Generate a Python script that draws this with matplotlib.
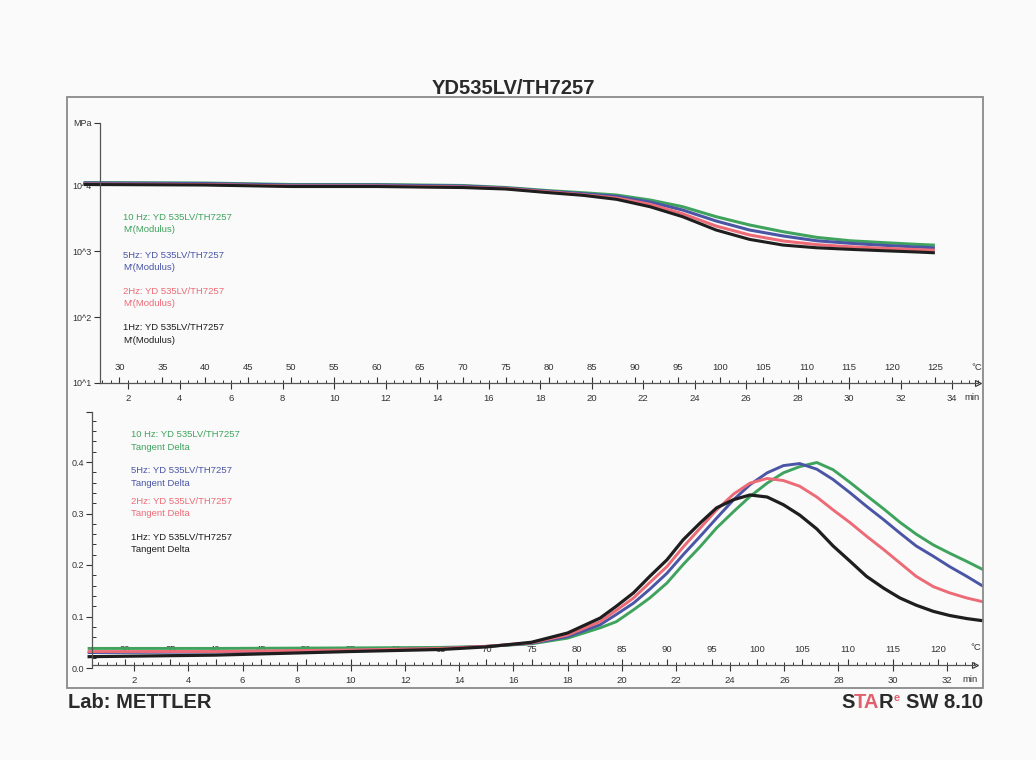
import numpy as np
import matplotlib
matplotlib.use("Agg")
import matplotlib.pyplot as plt
from matplotlib.patches import Rectangle
from matplotlib.ticker import MultipleLocator, NullLocator

plt.rcParams['font.family'] = ['Liberation Sans', 'DejaVu Sans']

# --- data (temperature in °C, heating 3 K/min from 25 °C) ---
# storage modulus M' in MPa
temp_mod = [26, 40, 50, 60, 70, 75, 80.1, 84.0, 87.9, 91.8, 95.6, 99.5, 103.4, 107.3,
            111.2, 115.1, 119.0, 122.9, 124.8]
mod_10hz = [10910, 10720, 10180, 10180, 9830, 9170, 8200, 7640, 7050, 5930, 4690, 3310,
            2480, 1960, 1610, 1430, 1340, 1260, 1230]
mod_5hz = [10720, 10540, 10000, 10000, 9660, 9010, 8030, 7380, 6740, 5530, 4180, 2850,
           2080, 1690, 1430, 1310, 1220, 1150, 1120]
mod_2hz = [10350, 10180, 9660, 9660, 9330, 8850, 7830, 7130, 6350, 5100, 3670, 2390,
           1750, 1420, 1250, 1160, 1100, 1050, 1030]
mod_1hz = [10180, 10000, 9490, 9490, 9160, 8700, 7640, 6980, 6070, 4690, 3310, 2080,
           1500, 1230, 1120, 1060, 1010, 966, 942]

# tangent delta
temp_tan = [26, 40, 55, 65, 70, 75, 79, 82.6, 84.4, 86.3, 88.1, 90.0, 91.8, 93.7, 95.5,
            97.4, 99.2, 101.1, 102.9, 104.7, 106.6, 108.4, 110.3, 112.1, 114.0, 115.8,
            117.6, 119.5, 121.3, 123.2, 124.9]
tan_10hz = [0.038, 0.038, 0.039, 0.040, 0.042, 0.047, 0.058, 0.078, 0.090, 0.113, 0.136,
            0.165, 0.201, 0.236, 0.272, 0.304, 0.333, 0.359, 0.379, 0.391, 0.399, 0.385,
            0.360, 0.335, 0.309, 0.283, 0.260, 0.239, 0.223, 0.207, 0.192]
tan_5hz = [0.030, 0.031, 0.034, 0.038, 0.042, 0.048, 0.061, 0.084, 0.104, 0.126, 0.153,
           0.184, 0.220, 0.256, 0.291, 0.327, 0.356, 0.379, 0.393, 0.397, 0.386, 0.366,
           0.340, 0.314, 0.288, 0.262, 0.237, 0.217, 0.197, 0.178, 0.160]
tan_2hz = [0.032, 0.032, 0.035, 0.038, 0.042, 0.049, 0.064, 0.090, 0.112, 0.136, 0.166,
           0.197, 0.235, 0.272, 0.307, 0.338, 0.359, 0.368, 0.364, 0.353, 0.332, 0.307,
           0.282, 0.256, 0.230, 0.204, 0.178, 0.158, 0.146, 0.136, 0.129]
tan_1hz = [0.022, 0.025, 0.032, 0.036, 0.041, 0.050, 0.068, 0.097, 0.120, 0.146, 0.178,
           0.210, 0.249, 0.282, 0.311, 0.327, 0.336, 0.332, 0.317, 0.297, 0.270, 0.237,
           0.207, 0.178, 0.155, 0.136, 0.122, 0.110, 0.102, 0.096, 0.092]

series = ['10 Hz', '5Hz', '2Hz', '1Hz']
colors = ['#3fa35e', '#4a55a6', '#ec6b76', '#1e1e1e']
mod_data = [mod_10hz, mod_5hz, mod_2hz, mod_1hz]
tan_data = [tan_10hz, tan_5hz, tan_2hz, tan_1hz]

time_ticks_top = np.arange(2, 35, 2)
time_ticks_bot = np.arange(2, 33, 2)
temp_ticks_top = np.arange(30, 126, 5)
temp_ticks_bot = np.arange(30, 121, 5)


def t2T(t):
    return 25 + 3 * np.asarray(t, dtype=float)


def T2t(T):
    return (np.asarray(T, dtype=float) - 25) / 3


W, H = 1036, 760
TXT = '#333333'
DARK = '#2a2a2a'
fig = plt.figure(figsize=(W / 100, H / 100), dpi=100, facecolor='#fafafa')

# outer frame
fig.add_artist(Rectangle((67 / W, 1 - 688 / H), 916 / W, 591 / H, transform=fig.transFigure,
                         fill=False, ec='#8a8a8a', lw=1.3))

fig.text(513 / W, 1 - 88 / H, 'YD535LV/TH7257', ha='center', va='center',
         fontsize=14.5, fontweight='bold', color=DARK)
fig.text(68 / W, 1 - 703 / H, 'Lab: METTLER', ha='left', va='center',
         fontsize=14.5, fontweight='bold', color=DARK)


def style_xaxes(ax, loc, time_ticks, temp_ticks):
    ax.set_xticks(time_ticks)
    ax.tick_params(axis='x', which='major', direction='out', length=4, width=0.8,
                   pad=4, labelsize=6.8, colors=TXT)
    sec = ax.secondary_xaxis(loc, functions=(t2T, T2t))
    sec.set_alignment('top')
    sec.spines['top'].set_visible(False)
    sec.set_xticks(temp_ticks)
    sec.xaxis.set_minor_locator(MultipleLocator(1))
    sec.tick_params(which='major', direction='out', length=4, width=0.8, pad=4,
                    labelsize=6.8, colors=TXT)
    sec.tick_params(which='minor', direction='out', length=2, width=0.7, colors=TXT)
    ax.plot([1], [loc], marker='>', ms=4, mfc='none', mec=TXT, mew=0.8,
            transform=ax.transAxes, clip_on=False)
    return sec


# ---------------- upper: modulus ----------------
ax1 = fig.add_axes([100 / W, 1 - 383 / H, 878 / W, 260 / H])
ax1.set_facecolor('none')
for i in range(4):
    ax1.plot(T2t(temp_mod), mod_data[i], color=colors[i], lw=2.2, clip_on=False,
             solid_joinstyle='round')
ax1.set_xlim(0.91, 35.0)
ax1.set_yscale('log')
ax1.set_ylim(10, 10 ** 4.94)
ax1.set_yticks([10, 100, 1000, 10000, 10 ** 4.94])
ax1.set_yticklabels(['10^1', '10^2', '10^3', '10^4', 'MPa'])
ax1.yaxis.set_minor_locator(NullLocator())
ax1.tick_params(axis='y', direction='out', length=4, width=0.8, pad=2,
                labelsize=6.5, colors=TXT)
for s in ['top', 'right']:
    ax1.spines[s].set_visible(False)
for s in ['left', 'bottom']:
    ax1.spines[s].set_color('#555555')
    ax1.spines[s].set_linewidth(0.9)
style_xaxes(ax1, 0, time_ticks_top, temp_ticks_top)
fig.text(977 / W, 1 - 368 / H, '°C', ha='center', va='center', fontsize=6.8, color=TXT)
fig.text(972 / W, 1 - 398 / H, 'min', ha='center', va='center', fontsize=6.8, color=TXT)

leg_y_top = [218, 255.5, 291, 328]
for i in range(4):
    fig.text(123 / W, 1 - leg_y_top[i] / H, series[i] + ': YD 535LV/TH7257',
             color=colors[i], fontsize=6.8, va='center')
    fig.text(123 / W, 1 - (leg_y_top[i] + 12) / H, "M'(Modulus)",
             color=colors[i], fontsize=6.8, va='center')

# ---------------- lower: tan delta ----------------
ax2 = fig.add_axes([92 / W, 1 - 668 / H, 883 / W, 256 / H])
ax2.set_facecolor('none')
for i in range(4):
    ax2.plot(T2t(temp_tan), tan_data[i], color=colors[i], lw=2.3 if i == 3 else 2.1,
             clip_on=False, solid_joinstyle='round')
ax2.set_xlim(0.44, 33.04)
ymax = 256 / 515
ax2.set_ylim(0, ymax)
ax2.set_yticks([0, 0.1, 0.2, 0.3, 0.4, ymax])
ax2.set_yticklabels(['0.0', '0.1', '0.2', '0.3', '0.4', ''])
ax2.yaxis.set_minor_locator(MultipleLocator(0.02))
ax2.tick_params(axis='y', which='major', direction='out', length=4, width=0.8, pad=2,
                labelsize=6.5, colors=TXT)
ax2.tick_params(axis='y', which='minor', direction='in', length=3, width=0.7, colors=TXT)
for s in ['top', 'right']:
    ax2.spines[s].set_visible(False)
for s in ['left', 'bottom']:
    ax2.spines[s].set_color('#555555')
    ax2.spines[s].set_linewidth(0.9)
ax2.spines['bottom'].set_position(('data', 0.006))
style_xaxes(ax2, 0.006 / ymax, time_ticks_bot, temp_ticks_bot)
fig.text(976 / W, 1 - 648 / H, '°C', ha='center', va='center', fontsize=6.8, color=TXT)
fig.text(970 / W, 1 - 680 / H, 'min', ha='center', va='center', fontsize=6.8, color=TXT)

leg_y_bot = [435, 470.5, 501.5, 537]
for i in range(4):
    fig.text(131 / W, 1 - leg_y_bot[i] / H, series[i] + ': YD 535LV/TH7257',
             color=colors[i], fontsize=6.8, va='center')
    fig.text(131 / W, 1 - (leg_y_bot[i] + 12.5) / H, 'Tangent Delta',
             color=colors[i], fontsize=6.8, va='center')

# ---------------- STARe logo, laid out right to left ----------------
red = '#e0606e'
renderer = fig.canvas.get_renderer()
# piece, colour, size, raise (px), gap to the right (px)
logo = [('S', DARK, 14.5, 0, -1.0), ('TA', red, 14.5, 0, -0.8), ('R', DARK, 14.5, 0, 0.3),
        ('e', red, 8, 5, 6), ('SW 8.10', DARK, 14.5, 0, 0)]
x_right = 983
for s, c, fs, dy, gap in reversed(logo):
    x_right -= gap
    t = fig.text(x_right / W, 1 - (703 - dy) / H, s, ha='right', va='center',
                 fontsize=fs, fontweight='bold', color=c)
    x_right -= t.get_window_extent(renderer).width

fig.savefig('out.png', dpi=100, facecolor=fig.get_facecolor())
